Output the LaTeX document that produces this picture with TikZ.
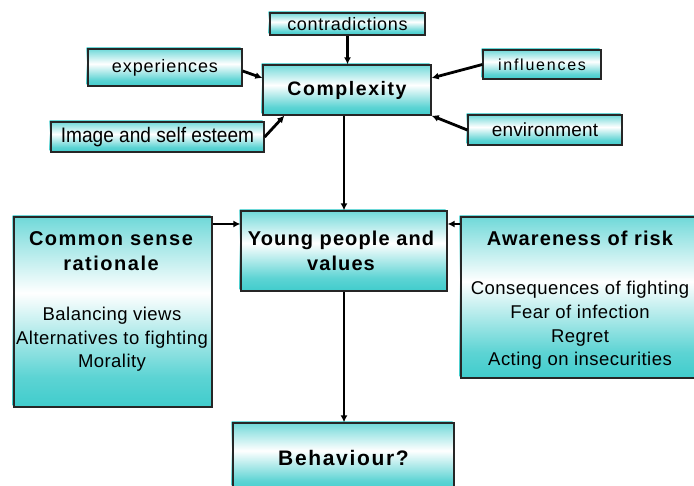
\documentclass[tikz,border=0pt]{standalone}
\usepackage{fontspec}
\setmainfont{Liberation Sans}
\newfontfamily\labelfont{Liberation Sans}
\newfontfamily\narrowfont[FakeStretch=0.91]{Liberation Sans}
\newfontfamily\bodyfont[LetterSpace=2.5]{Liberation Sans}
\newfontfamily\headfont[LetterSpace=5.5]{Liberation Sans}
\newfontfamily\wideheadfont[LetterSpace=7.5]{Liberation Sans}
\newfontfamily\cxfont[LetterSpace=8]{Liberation Sans}
\usetikzlibrary{arrows.meta,calc}
\definecolor{tealc}{RGB}{64,204,204}
% teal at the bottom, white in the upper middle, lighter teal at the top
\pgfdeclareverticalshading{boxgrad}{100bp}{color(0bp)=(tealc); color(25bp)=(tealc); color(33bp)=(tealc!85); color(55bp)=(white); color(70bp)=(tealc!55); color(75bp)=(tealc!75); color(100bp)=(tealc!75)}
\newcommand{\spaced}[2]{{\addfontfeatures{LetterSpace=#1}#2}}
\tikzset{
  box/.style={draw=black!85, line width=1.3pt, shading=boxgrad, inner sep=0pt,
    preaction={shading=boxgrad, shade, transform canvas={shift={(-1.5pt,1.5pt)}}}},
  headtext/.style={font=\headfont\bfseries\fontsize{20}{25}\selectfont, align=center, inner sep=0pt},
  bodytext/.style={font=\bodyfont\fontsize{18.5}{23.6}\selectfont, align=center, inner sep=0pt},
  conn/.style={line width=2.8pt, -{Latex[length=7pt,width=7pt]}},
}
\begin{document}
\begin{tikzpicture}[x=1pt,y=-1pt]
\path[use as bounding box, clip] (0,0) rectangle (694,486);
\fill[white] (0,0) rectangle (694,486);

% outer influences
\node[box, font=\labelfont\fontsize{18}{20}\selectfont, minimum width=155pt, minimum height=22pt] (contr) at (347.5,24) {\spaced{4}{contradictions}};
\node[box, font=\labelfont\fontsize{18}{20}\selectfont, minimum width=154pt, minimum height=37pt] (exp) at (165,67.5) {\spaced{5}{experiences}};
\node[box, font=\narrowfont\fontsize{21}{23}\selectfont, minimum width=213pt, minimum height=30pt] (img) at (157.5,137) {Image and self esteem};
\node[box, font=\labelfont\fontsize{16}{18}\selectfont, minimum width=118pt, minimum height=29pt] (infl) at (542,64.5) {\spaced{11}{influences}};
\node[box, font=\labelfont\fontsize{19}{21}\selectfont, minimum width=154pt, minimum height=30pt] (env) at (545,130) {\spaced{1}{environment}};

% central chain
\node[box, font=\cxfont\bfseries\fontsize{19.5}{25}\selectfont, minimum width=168pt, minimum height=50pt] (cx) at (347,90) {Complexity};
\node[box, minimum width=206pt, minimum height=80pt] (yp) at (344,251) {};
\node[headtext] (yptext) at (341,251) {Young people and\\values};
\node[box, font=\cxfont\bfseries\fontsize{21}{25}\selectfont, minimum width=221pt, minimum height=69pt] (beh) at (343.5,457.5) {Behaviour?};

% side boxes
\node[box, minimum width=198pt, minimum height=190pt] (cs) at (113,312) {};
\node[headtext, font=\wideheadfont\bfseries\fontsize{20}{25}\selectfont] (cstitle) at (111,251) {Common sense\\rationale};
\node[bodytext] (csbody) at (112,339.5) {Balancing views\\Alternatives to fighting\\Morality};

\node[box, minimum width=237pt, minimum height=161pt] (aw) at (579.5,297.5) {};
\node[headtext] (awtitle) at (580,238) {Awareness of risk};
\node[bodytext] (awbody) at (580,325.5) {Consequences of fighting\\Fear of infection\\Regret\\Acting on insecurities};

% connectors
\draw[conn] (contr.south) -- (contr.south |- cx.north);
\draw[conn] ($(exp.east)+(0,3.5)$) -- ($(cx.west)+(0,-12)$);
\draw[conn] (img.east) -- ($(cx.south west)+(22,0)$);
\draw[conn] (infl.west) -- ($(cx.east)+(0,-12)$);
\draw[conn] (env.west) -- (cx.south east);
\draw[conn] (yp.north |- cx.south) -- (yp.north);
\draw[conn] (cs.east |- 0,224) -- (yp.west |- 0,224);
\draw[conn] (aw.west |- 0,224) -- (yp.east |- 0,224);
\draw[conn] (yp.south) -- (yp.south |- beh.north);
\end{tikzpicture}
\end{document}
